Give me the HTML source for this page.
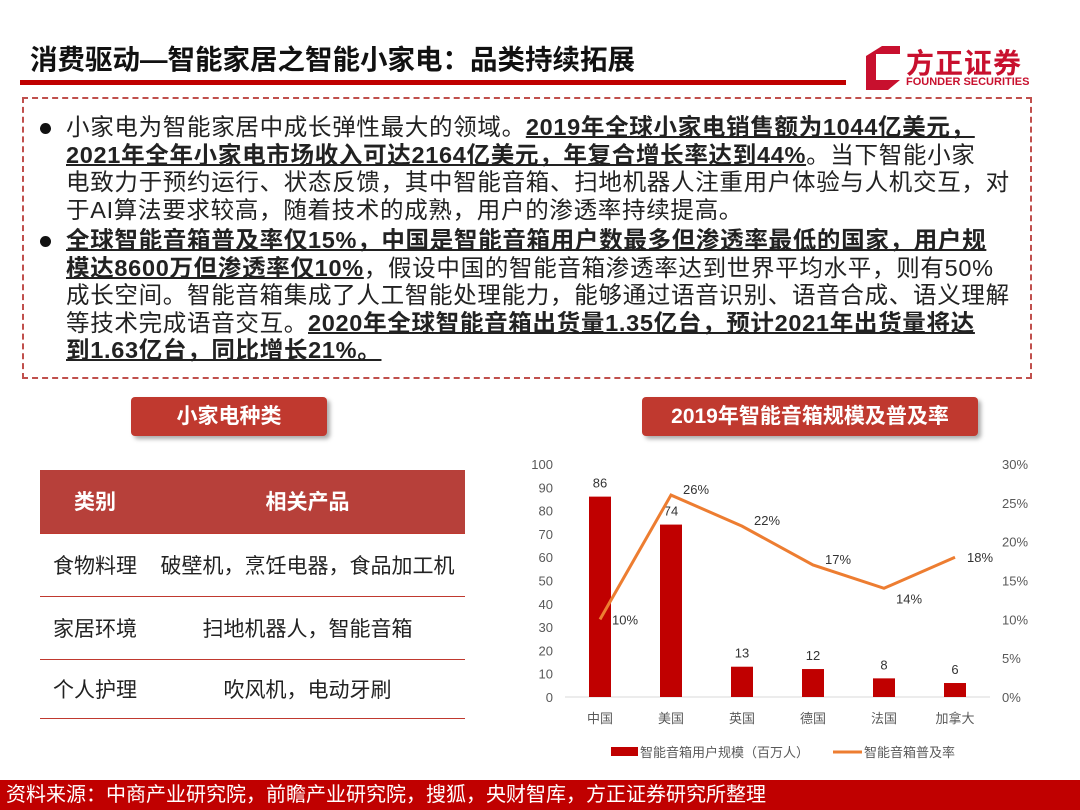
<!DOCTYPE html>
<html><head><meta charset="utf-8"><style>
body{margin:0;width:1080px;height:810px;position:relative;background:#fff;font-family:"Liberation Sans","Noto Sans CJK SC",sans-serif;overflow:hidden}
.abs{position:absolute}
#txt div{margin:0;font-size:23.5px;line-height:27.5px;height:27.5px;color:#222;position:relative;white-space:nowrap;letter-spacing:0.7px}
#txt b{text-decoration:underline;text-decoration-thickness:2px}
.dot{position:absolute;left:-26px;top:9px;width:11px;height:11px;border-radius:50%;background:#111}
.pill{background:#c0392f;color:#fff;font-weight:bold;font-size:21px;text-align:center;line-height:39px;border-radius:4px;box-shadow:3px 3px 4px #aaa}
table{border-collapse:collapse;font-size:21px;color:#222}
td{border-bottom:1px solid #c0392f;text-align:center}
</style></head><body>
<div class="abs" style="left:30px;top:37px;font-size:27.5px;font-weight:bold;color:#111">消费驱动—智能家居之智能小家电：品类持续拓展</div>
<div class="abs" style="left:20px;top:80px;width:826px;height:5px;background:#c00000"></div>
<div class="abs" style="left:862px;top:42px;width:180px;height:50px">
<svg width="40" height="46" style="position:absolute;left:0;top:2px"><path d="M4 12 L20 2 L38 2 L38 10 L14 10 L14 36 L38 36 L26 46 L4 46Z" fill="#c8102e"/></svg>
<div class="abs" style="left:44px;top:0;font-size:28px;font-weight:bold;color:#c8102e;letter-spacing:1px">方正证券</div>
<div class="abs" style="left:44px;top:34px;font-size:11px;font-weight:bold;color:#c8102e;white-space:nowrap">FOUNDER SECURITIES</div></div>
<div class="abs" style="left:22px;top:97px;width:1006px;height:278px;border:2px dashed #c0504d"></div>
<div id="txt" class="abs" style="left:66px;top:114px;width:950px">
<div><span class="dot"></span>小家电为智能家居中成长弹性最大的领域。<b>2019年全球小家电销售额为1044亿美元，</b></div>
<div><b>2021年全年小家电市场收入可达2164亿美元，年复合增长率达到44%</b>。当下智能小家</div>
<div>电致力于预约运行、状态反馈，其中智能音箱、扫地机器人注重用户体验与人机交互，对</div>
<div>于AI算法要求较高，随着技术的成熟，用户的渗透率持续提高。</div>
<div style="margin-top:3px"><span class="dot"></span><b>全球智能音箱普及率仅15%，中国是智能音箱用户数最多但渗透率最低的国家，用户规</b></div>
<div><b>模达8600万但渗透率仅10%</b>，假设中国的智能音箱渗透率达到世界平均水平，则有50%</div>
<div>成长空间。智能音箱集成了人工智能处理能力，能够通过语音识别、语音合成、语义理解</div>
<div>等技术完成语音交互。<b>2020年全球智能音箱出货量1.35亿台，预计2021年出货量将达</b></div>
<div><b>到1.63亿台，同比增长21%。</b></div></div>
<div class="abs pill" style="left:131px;top:397px;width:196px">小家电种类</div>
<div class="abs pill" style="left:642px;top:397px;width:336px">2019年智能音箱规模及普及率</div>
<table class="abs" style="left:40px;top:470px;width:425px">
<tr style="background:#b7403a;color:#fff;font-weight:bold;height:63px"><td style="width:108px">类别</td><td>相关产品</td></tr>
<tr style="height:63px"><td>食物料理</td><td>破壁机，烹饪电器，食品加工机</td></tr>
<tr style="height:63px"><td>家居环境</td><td>扫地机器人，智能音箱</td></tr>
<tr style="height:59px"><td>个人护理</td><td>吹风机，电动牙刷</td></tr></table>
<svg id="chart" class="abs" style="left:0;top:0" width="1080" height="810"></svg>
<div class="abs" style="left:0;top:780px;width:1080px;height:30px;background:#c00000;color:#fff;font-size:20px;line-height:30px;padding-left:6px">资料来源：中商产业研究院，前瞻产业研究院，搜狐，央财智库，方正证券研究所整理</div>
<script>
const categories=["中国","美国","英国","德国","法国","加拿大"];
const users=[86,74,13,12,8,6];
const rates=[10,26,22,17,14,18];
const leftTicks=[0,10,20,30,40,50,60,70,80,90,100];
const rightTicks=[0,5,10,15,20,25,30];
const NS="http://www.w3.org/2000/svg",svg=document.getElementById('chart');
const y0=697,y1=464;
const yL=v=>y0-(v/100)*(y0-y1), yR=v=>y0-(v/30)*(y0-y1), xC=i=>600+i*71;
function mk(t,a,txt){const e=document.createElementNS(NS,t);for(const k in a)e.setAttribute(k,a[k]);if(txt!==undefined)e.textContent=txt;svg.appendChild(e);return e;}
const F='"Liberation Sans","Noto Sans CJK SC",sans-serif';
const ax=mk('line',{x1:565,x2:990,y1:y0,y2:y0,stroke:'#d9d9d9'});

leftTicks.forEach(v=>{const t=mk('text',{x:553,y:yL(v)+5,'text-anchor':'end','font-size':13,fill:'#595959','font-family':F},v);
});
rightTicks.forEach(v=>{const t=mk('text',{x:1002,y:yR(v)+5,'font-size':13,fill:'#595959','font-family':F},v+'%');
});
categories.forEach((c,i)=>{
const r=mk('rect',{x:xC(i)-11,y:yL(users[i]),width:22,height:y0-yL(users[i]),fill:'#c00000'});

const l=mk('text',{x:xC(i),y:yL(users[i])-9,'text-anchor':'middle','font-size':13,fill:'#333','font-family':F},users[i]);

const c2=mk('text',{x:xC(i),y:723,'text-anchor':'middle','font-size':13,fill:'#595959','font-family':F},c);
});
const pl=mk('polyline',{points:rates.map((v,i)=>xC(i)+','+yR(v)).join(' '),fill:'none',stroke:'#ed7d31','stroke-width':3});

rates.forEach((v,i)=>{const t=mk('text',{x:xC(i)+12,y:yR(v)+5+(i==0?0:i==4?10:i==5?0:-6),'font-size':13,fill:'#333','font-family':F},v+'%');
});
const lb=mk('rect',{x:611,y:747,width:27,height:9,fill:'#c00000'});

const lt=mk('text',{x:640,y:757,'font-size':13,fill:'#595959','font-family':F},'智能音箱用户规模（百万人）');

const ll=mk('line',{x1:833,x2:862,y1:752,y2:752,stroke:'#ed7d31','stroke-width':3});

const lt2=mk('text',{x:864,y:757,'font-size':13,fill:'#595959','font-family':F},'智能音箱普及率');

</script>
</body></html>
